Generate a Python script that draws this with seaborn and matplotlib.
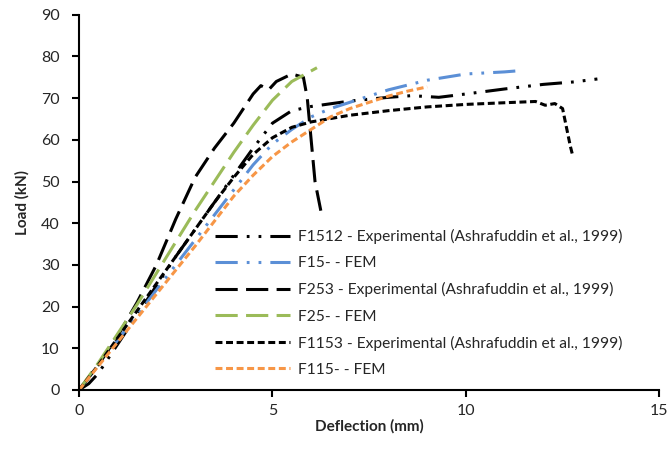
import numpy as np
import pandas as pd
import matplotlib
matplotlib.use("Agg")
import matplotlib.pyplot as plt
import seaborn as sns

# load-deflection curves
f1512_x = [0, 0.25, 0.5, 1, 1.5, 2, 2.5, 3, 3.5, 4, 4.5, 5, 5.5, 6, 7, 8, 8.6, 9.3, 10, 11, 12, 12.8, 13.4]
f1512_y = [0, 1.5, 4, 11, 18, 25, 32, 38.5, 45, 51.5, 58, 64, 67, 68, 69.3, 70.2, 70.6, 70.2, 71, 72.2, 73.3, 73.9, 74.6]

f15_x = [0, 1, 2, 3, 4, 4.5, 5, 5.5, 6, 6.5, 7, 8, 9, 10, 11, 11.4]
f15_y = [0, 12, 24, 36, 48, 54, 59, 62.5, 65.5, 67.5, 69, 72, 74.3, 75.8, 76.3, 76.6]

f253_x = [0, 0.5, 1, 1.5, 2, 2.5, 3, 3.5, 4, 4.5, 4.7, 4.9, 5.1, 5.5, 5.8, 5.9, 6.0, 6.1, 6.25]
f253_y = [0, 6, 13, 21, 30, 41, 51, 58, 64, 71, 73, 72, 74, 75.8, 75, 70, 60, 50, 43]

f25_x = [0, 0.5, 1, 1.5, 2, 2.5, 3, 3.5, 4, 4.5, 5, 5.5, 6.15]
f25_y = [0, 6.5, 13.5, 20.5, 28, 35.5, 43, 50, 57, 63.5, 69.5, 74, 77.3]

f1153_x = [0, 0.5, 1, 1.5, 2, 2.5, 3, 3.5, 4, 4.5, 5, 5.5, 6, 7, 8, 9, 10, 11, 11.8, 12.05, 12.3, 12.5, 12.6, 12.7, 12.77]
f1153_y = [0, 6, 12.5, 19, 25.5, 32, 38.5, 45, 51, 56.5, 60.5, 63, 64.3, 65.9, 67, 67.9, 68.5, 68.9, 69.2, 68.3, 68.7, 67.5, 63, 58.5, 55.9]

f115_x = [0, 1, 2, 3, 3.5, 4, 4.5, 5, 5.5, 6, 6.5, 7, 7.5, 8, 8.5, 9]
f115_y = [0, 11.5, 23, 34.5, 40.5, 46.5, 51.5, 56, 59.5, 62.5, 65.5, 67.5, 69, 70.5, 71.7, 72.7]

labels = ["F1512 - Experimental (Ashrafuddin et al., 1999)",
          "F15- - FEM",
          "F253 - Experimental (Ashrafuddin et al., 1999)",
          "F25- - FEM",
          "F1153 - Experimental (Ashrafuddin et al., 1999)",
          "F115- - FEM"]

sns.set_style("white")
plt.rcParams['font.family'] = ['Lato', 'DejaVu Sans']
plt.rcParams['lines.scale_dashes'] = False

curves = [(f1512_x, f1512_y), (f15_x, f15_y), (f253_x, f253_y),
          (f25_x, f25_y), (f1153_x, f1153_y), (f115_x, f115_y)]
colors = ['black', '#5B8FD6', 'black', '#9BBB59', 'black', '#F79646']
dashdotdot = (0, (16, 6.5, 2, 6.5, 2, 6.5))
longdash = (0, (16, 6))
shortdash = (0, (5, 2.6))
styles = [dashdotdot, dashdotdot, longdash, longdash, shortdash, shortdash]

fig = plt.figure(figsize=(6.7, 4.62), dpi=100)
ax = fig.add_axes([0.118, 0.156, 0.866, 0.812])

for (xs, ys), lab, c, ls in zip(curves, labels, colors, styles):
    df = pd.DataFrame({'x': xs, 'y': ys})
    sns.lineplot(data=df, x='x', y='y', ax=ax, color=c, linestyle=ls,
                 linewidth=2.2, sort=False, estimator=None, label=lab)

ax.set_xlim(0, 15)
ax.set_ylim(0, 90)
ax.set_xticks([0, 5, 10, 15])
ax.set_yticks(np.arange(0, 91, 10))
ax.set_xlabel('Deflection (mm)', fontsize=11, fontweight='bold', labelpad=1)
ax.set_ylabel('Load (kN)', fontsize=11, fontweight='bold', labelpad=8)

for side in ['top', 'right']:
    ax.spines[side].set_visible(False)
for side in ['left', 'bottom']:
    ax.spines[side].set_color('black')
    ax.spines[side].set_linewidth(1.5)
ax.tick_params(axis='both', direction='out', length=5, width=1.5, color='black',
               labelsize=11.5, left=True, bottom=True)
ax.tick_params(axis='x', pad=5)
ax.tick_params(axis='y', pad=9)

ax.legend(loc='upper left', bbox_to_anchor=(215 / 670, (462 - 229) / 462),
          bbox_transform=fig.transFigure, frameon=False, fontsize=11.2,
          handlelength=4.8, handletextpad=0.55, labelspacing=0.78,
          borderaxespad=0, borderpad=0)

fig.savefig('out.png', dpi=100)
